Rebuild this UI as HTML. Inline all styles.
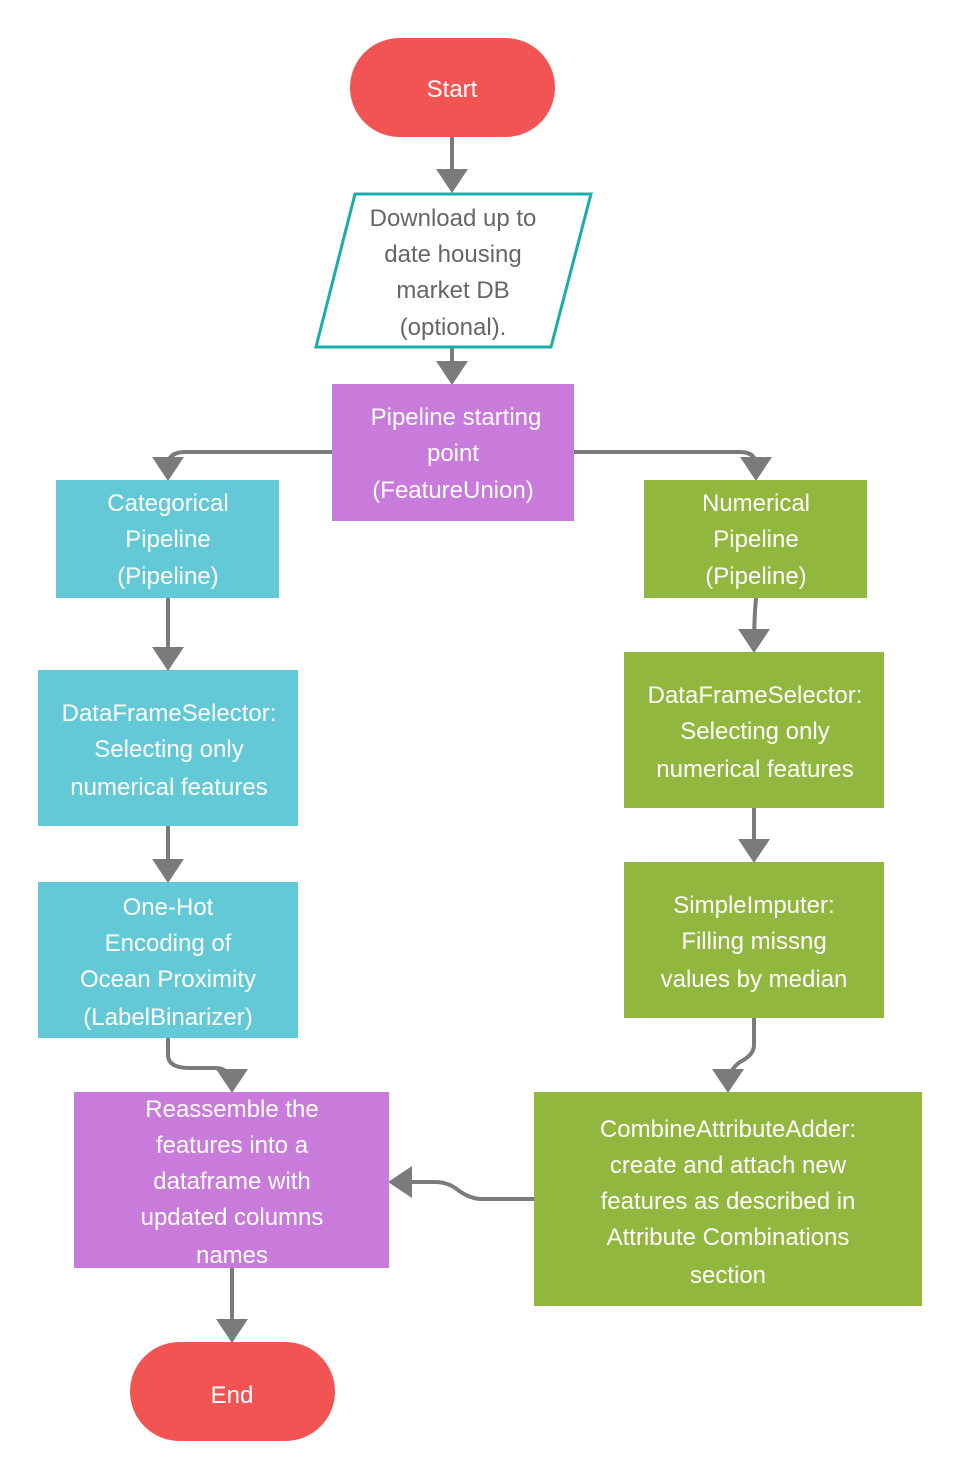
<!DOCTYPE html>
<html><head><meta charset="utf-8"><style>
html,body{margin:0;padding:0;background:#fff;}
svg{display:block;}
text{font-family:"Liberation Sans",sans-serif;font-size:24px;fill:#fff;text-anchor:middle;}
text.g{fill:#666;}
</style></head><body>
<svg width="960" height="1481" viewBox="0 0 960 1481" xmlns="http://www.w3.org/2000/svg">
<defs>
<marker id="a" markerWidth="8" markerHeight="8" refX="5" refY="4" orient="auto" markerUnits="strokeWidth">
<path d="M0,0 L6,4 L0,8 Z" fill="#7b7b7b"/>
</marker>
</defs>
<g fill="none" stroke="#7b7b7b" stroke-width="4" marker-end="url(#a)">
<path d="M452,137 V189"/>
<path d="M452,347 V381"/>
<path d="M332,452 H185 Q168,452 168,466 V477"/>
<path d="M574,452 H740 Q756,452 756,466 V477"/>
<path d="M168,598 V667"/>
<path d="M756,598 Q754,620 754,649"/>
<path d="M168,826 V879"/>
<path d="M754,808 V859"/>
<path d="M168,1038 V1055 Q168,1068 190,1068 H215 Q232,1068 232,1089"/>
<path d="M754,1018 V1045 Q754,1055 740,1062 Q728,1070 728,1089"/>
<path d="M534,1199 H482 Q470,1199 458,1190 Q448,1182 435,1182 H392"/>
<path d="M232,1268 V1339"/>
</g>
<rect x="350" y="38" width="205" height="99" rx="49.5" fill="#f25454"/>
<text x="452" y="97">Start</text>
<polygon points="355,194 591,194 551,347 316,347" fill="#fff" stroke="#1aaea8" stroke-width="3"/>
<text class="g" x="453" y="226">Download up to</text><text class="g" x="453" y="262">date housing</text><text class="g" x="453" y="298">market DB</text><text class="g" x="453" y="335">(optional).</text>
<rect x="332" y="384" width="242" height="137" fill="#c97bdb"/>
<text x="456" y="425">Pipeline starting</text><text x="453" y="461">point</text><text x="453" y="498">(FeatureUnion)</text>
<rect x="56" y="480" width="223" height="118" fill="#63c9d6"/>
<text x="168" y="511">Categorical</text><text x="168" y="547">Pipeline</text><text x="168" y="584">(Pipeline)</text>
<rect x="644" y="480" width="223" height="118" fill="#92b73e"/>
<text x="756" y="511">Numerical</text><text x="756" y="547">Pipeline</text><text x="756" y="584">(Pipeline)</text>
<rect x="38" y="670" width="260" height="156" fill="#63c9d6"/>
<text x="169" y="721">DataFrameSelector:</text><text x="169" y="757">Selecting only</text><text x="169" y="795">numerical features</text>
<rect x="624" y="652" width="260" height="156" fill="#92b73e"/>
<text x="755" y="703">DataFrameSelector:</text><text x="755" y="739">Selecting only</text><text x="755" y="777">numerical features</text>
<rect x="38" y="882" width="260" height="156" fill="#63c9d6"/>
<text x="168" y="915">One-Hot</text><text x="168" y="951">Encoding of</text><text x="168" y="987">Ocean Proximity</text><text x="168" y="1025">(LabelBinarizer)</text>
<rect x="624" y="862" width="260" height="156" fill="#92b73e"/>
<text x="754" y="913">SimpleImputer:</text><text x="754" y="949">Filling missng</text><text x="754" y="987">values by median</text>
<rect x="74" y="1092" width="315" height="176" fill="#c97bdb"/>
<text x="232" y="1117">Reassemble the</text><text x="232" y="1153">features into a</text><text x="232" y="1189">dataframe with</text><text x="232" y="1225">updated columns</text><text x="232" y="1263">names</text>
<rect x="534" y="1092" width="388" height="214" fill="#92b73e"/>
<text x="728" y="1137">CombineAttributeAdder:</text><text x="728" y="1173">create and attach new</text><text x="728" y="1209">features as described in</text><text x="728" y="1245">Attribute Combinations</text><text x="728" y="1283">section</text>
<rect x="130" y="1342" width="205" height="99" rx="49.5" fill="#f25454"/>
<text x="232" y="1403">End</text>
</svg>
</body></html>
